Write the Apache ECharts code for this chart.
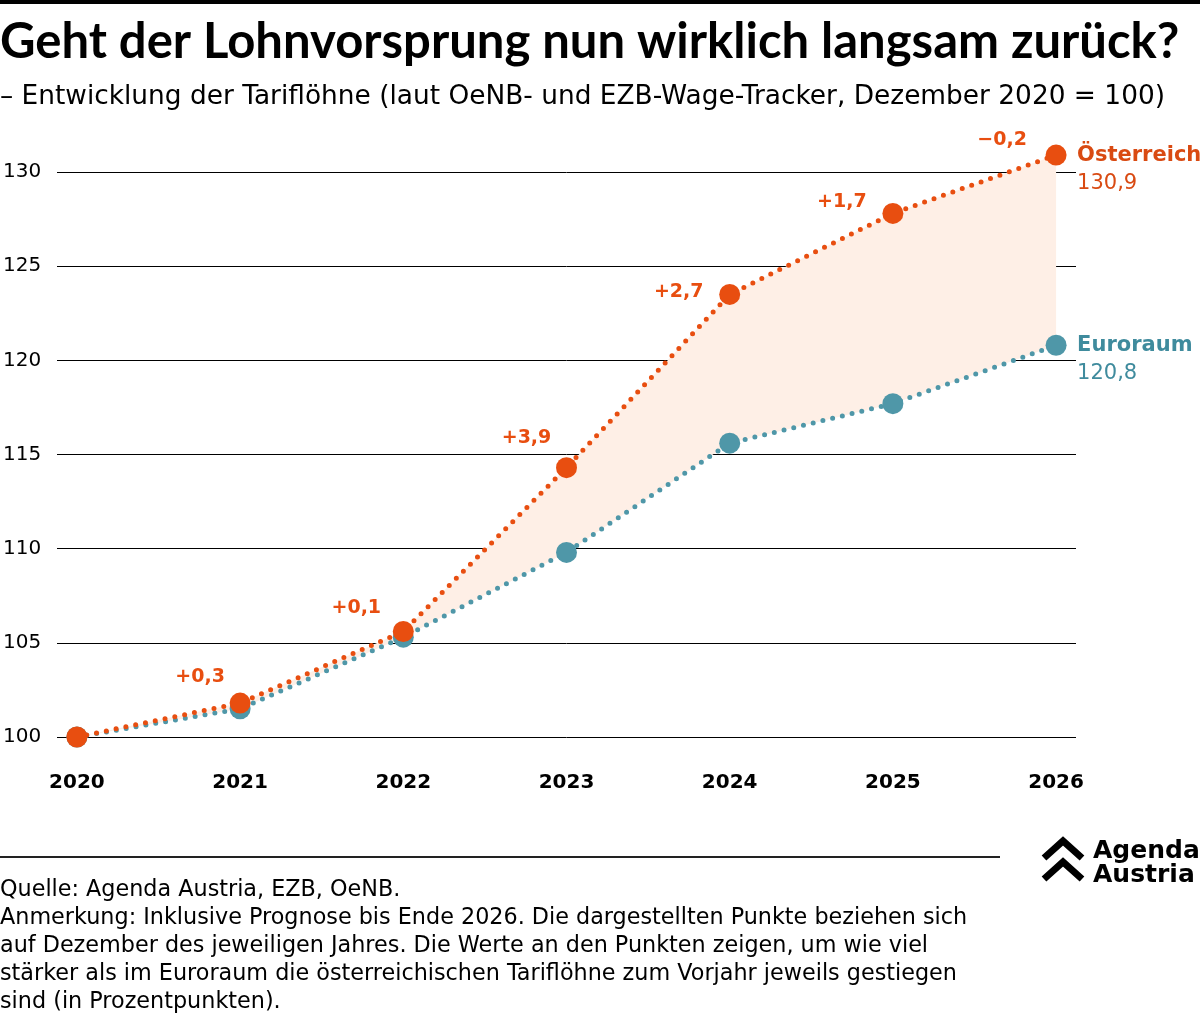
<!DOCTYPE html>
<html>
<head>
<meta charset="utf-8">
<script src="https://cdn.jsdelivr.net/npm/echarts@6/dist/echarts.min.js"></script>
<style>
  html, body { margin: 0; padding: 0; background: #fff; }
  #chart { width: 1200px; height: 1018px; }
</style>
</head>
<body>
<div id="chart"></div>
<script>
// Tariflöhne, Dezember 2020 = 100
const years = [2020, 2021, 2022, 2023, 2024, 2025, 2026];
const austria = [100, 101.8, 105.6, 114.3, 123.5, 127.8, 130.9];
const euroArea = [100, 101.5, 105.3, 109.8, 115.6, 117.7, 120.8];
// Vorsprung Österreich ggü. Euroraum, Prozentpunkte
const gap = [null, 0.3, 0.1, 3.9, 2.7, 1.7, -0.2];
const yTicks = [100, 105, 110, 115, 120, 125, 130];

const ORANGE = "#e84e10";
const TEAL = "#4f97a8";
const FONT = "DejaVu Sans";

// where the small labels sit next to the points
const gapOffsets = [null, [-40, -26], [-47, -23], [-40, -30], [-51, -2], [-51, -11], [-54, -15]];

const fmt = v => v.toFixed(1).replace(".", ",");
const fmtGap = v => (v < 0 ? "\u2212" : "+") + fmt(Math.abs(v));

const chart = echarts.init(document.getElementById("chart"), null, { renderer: "canvas" });

const dotted = color => ({ color: color, width: 5, type: [0, 10], cap: "round" });

const endLabel = color => ({
    show: true,
    distance: 21,
    offset: [0, 14],
    formatter: p => "{n|" + p.seriesName + "}\n{v|" + fmt(p.value[1]) + "}",
    rich: {
        n: { fontSize: 21, fontWeight: "bold", color: color, fontFamily: FONT, lineHeight: 28 },
        v: { fontSize: 21, color: color, fontFamily: FONT, lineHeight: 28 }
    }
});

const option = {
    animation: false,
    backgroundColor: "#fff",
    textStyle: { fontFamily: FONT },
    grid: { left: 55, right: 124, top: 172, bottom: 281 },
    xAxis: {
        type: "value",
        min: 2019.878,
        max: 2026.122,
        axisLine: { show: false },
        axisTick: { show: false },
        splitLine: { show: false },
        axisLabel: {
            customValues: years,
            formatter: v => String(v),
            margin: 36,
            verticalAlign: "top",
            fontSize: 20,
            fontWeight: "bold",
            color: "#000",
            fontFamily: FONT
        }
    },
    yAxis: {
        type: "value",
        min: yTicks[0],
        max: yTicks[yTicks.length - 1],
        interval: 5,
        axisLine: { show: false },
        axisTick: { show: false },
        splitLine: { lineStyle: { color: "#000", width: 1 } },
        axisLabel: {
            align: "left",
            margin: 54,
            fontSize: 20,
            color: "#000",
            fontFamily: FONT
        }
    },
    series: [
        {
            // band between the two curves
            type: "custom",
            clip: false,
            z: 1,
            silent: true,
            data: [[years[0], austria[0]]],
            renderItem: function (params, api) {
                const top = years.map((y, i) => api.coord([y, austria[i]]));
                const bottom = years.map((y, i) => api.coord([y, euroArea[i]])).reverse();
                return {
                    type: "polygon",
                    shape: { points: top.concat(bottom) },
                    style: { fill: "#feefe6" }
                };
            }
        },
        {
            name: "Euroraum",
            type: "line",
            z: 3,
            clip: false,
            symbol: "circle",
            symbolSize: 21,
            itemStyle: { color: TEAL },
            lineStyle: dotted(TEAL),
            data: years.map((y, i) => [y, euroArea[i]]),
            endLabel: endLabel("#3f8b9d")
        },
        {
            name: "Österreich",
            type: "line",
            z: 4,
            clip: false,
            symbol: "circle",
            symbolSize: 21,
            itemStyle: { color: ORANGE },
            lineStyle: dotted(ORANGE),
            data: years.map((y, i) => ({
                value: [y, austria[i]],
                label: gap[i] === null ? { show: false } : {
                    show: true,
                    position: "inside",
                    offset: gapOffsets[i],
                    formatter: fmtGap(gap[i]),
                    fontSize: 19,
                    fontWeight: "bold",
                    color: ORANGE,
                    fontFamily: FONT
                }
            })),
            endLabel: endLabel("#d94a12")
        }
    ],
    graphic: [
        { type: "rect", left: 0, top: 0, shape: { width: 1200, height: 4 }, style: { fill: "#000" } },
        {
            type: "text", left: 0, top: 18,
            style: { text: "Geht der Lohnvorsprung nun wirklich langsam zurück?", font: "bold 49px Lato", fill: "#000" }
        },
        {
            type: "text", left: 0, top: 84,
            style: { text: "\u2013 Entwicklung der Tariflöhne (laut OeNB- und EZB-Wage-Tracker, Dezember 2020 = 100)", font: "26.4px 'DejaVu Sans'", fill: "#000" }
        },
        { type: "rect", left: 0, top: 856, shape: { width: 1000, height: 2 }, style: { fill: "#222" } },
        {
            type: "text", left: 0, top: 876,
            style: {
                text: "Quelle: Agenda Austria, EZB, OeNB.\n" +
                    "Anmerkung: Inklusive Prognose bis Ende 2026. Die dargestellten Punkte beziehen sich\n" +
                    "auf Dezember des jeweiligen Jahres. Die Werte an den Punkten zeigen, um wie viel\n" +
                    "stärker als im Euroraum die österreichischen Tariflöhne zum Vorjahr jeweils gestiegen\n" +
                    "sind (in Prozentpunkten).",
                font: "22.3px 'DejaVu Sans'", lineHeight: 28, fill: "#000"
            }
        },
        // logo
        {
            type: "polyline", shape: { points: [[1044, 858], [1063, 841], [1082, 858]] },
            style: { stroke: "#000", lineWidth: 7, fill: null, lineJoin: "miter" }
        },
        {
            type: "polyline", shape: { points: [[1044, 879], [1063, 862], [1082, 879]] },
            style: { stroke: "#000", lineWidth: 7, fill: null, lineJoin: "miter" }
        },
        {
            type: "text", left: 1093, top: 839,
            style: { text: "Agenda\nAustria", font: "bold 25px 'DejaVu Sans'", lineHeight: 24, fill: "#000" }
        }
    ]
};

chart.setOption(option);
</script>
</body>
</html>
